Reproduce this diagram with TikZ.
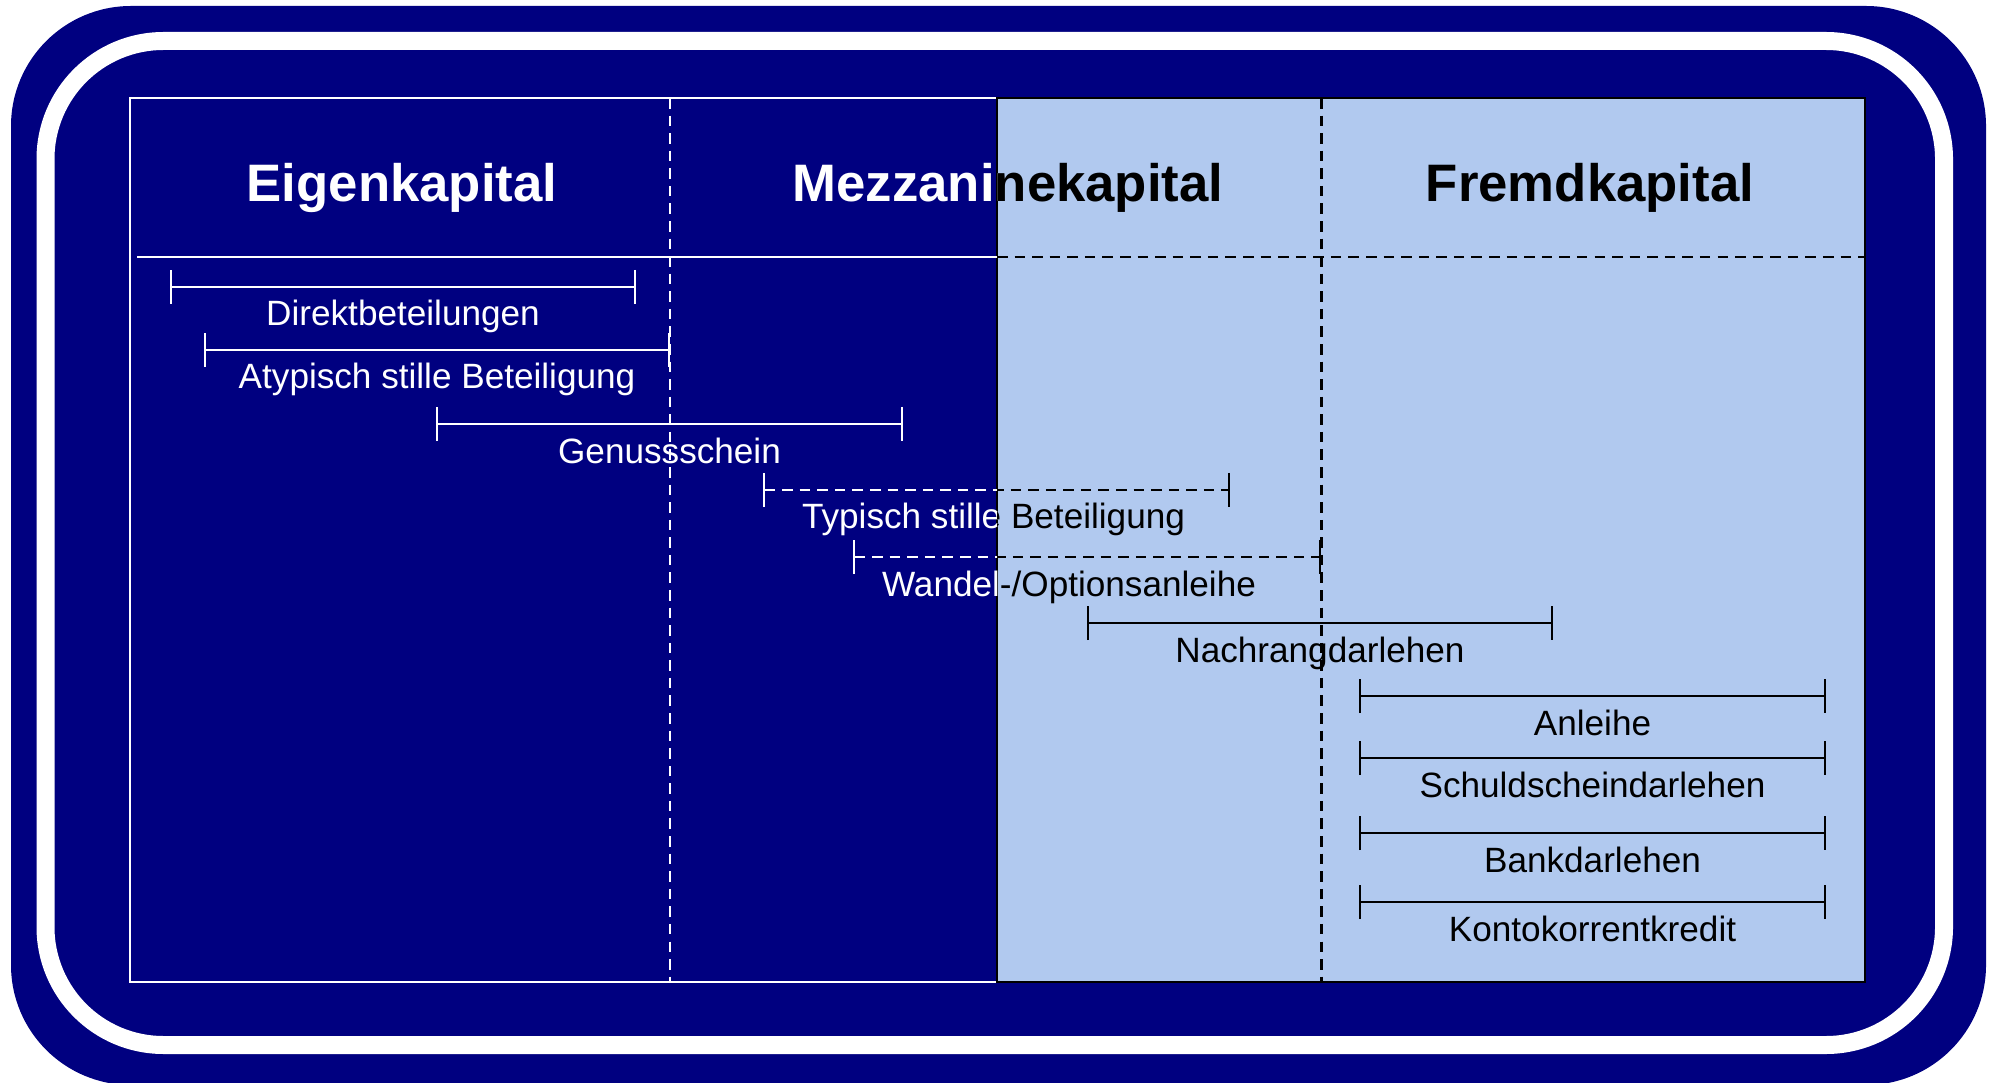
\documentclass[tikz,border=0pt]{standalone}
\usepackage{fontspec}
\setmainfont{Liberation Sans}
\usetikzlibrary{arrows.meta}

\definecolor{navyblue}{RGB}{0,0,128}
\definecolor{paleblue}{RGB}{177,201,239}

% all spans and headers, drawn twice (white on navy, black on pale blue)
\newcommand\capitalspans{%
  \node[head] (ek) at (4.02,2.02) {Eigenkapital};
  \node[head] (mk) at (10.08,2.02) {Mezzaninekapital};
  \node[head] (fk) at (15.90,2.02) {Fremdkapital};
  % equity side
  \coordinate (dirL) at (1.70,2.87); \coordinate (dirR) at (6.36,2.87);
  \draw[span] (dirL) -- (dirR) node[lbl] (dir) {Direktbeteilungen};
  \coordinate (atyL) at (2.04,3.50); \coordinate (atyR) at (6.70,3.50);
  \draw[span] (atyL) -- (atyR) node[lbl] (aty) {Atypisch stille Beteiligung};
  \coordinate (genL) at (4.36,4.24); \coordinate (genR) at (9.03,4.24);
  \draw[span] (genL) -- (genR) node[lbl] (gen) {Genussschein};
  \coordinate (typL) at (7.63,4.90); \coordinate (typR) at (12.30,4.90);
  \draw[span,dashspan] (typL) -- (typR) node[lbl,xshift=-0.03cm] (typ) {Typisch stille Beteiligung};
  \coordinate (wanL) at (8.53,5.57); \coordinate (wanR) at (13.21,5.57);
  \draw[span,dashspan] (wanL) -- (wanR) node[lbl,xshift=-0.18cm] (wan) {Wandel-/Optionsanleihe};
  \coordinate (narL) at (10.87,6.23); \coordinate (narR) at (15.53,6.23);
  \draw[span] (narL) -- (narR) node[lbl] (nar) {Nachrangdarlehen};
  % debt side
  \coordinate (anlL) at (13.59,6.96); \coordinate (anlR) at (18.26,6.96);
  \draw[span] (anlL) -- (anlR) node[lbl] (anl) {Anleihe};
  \coordinate (schL) at (13.59,7.58); \coordinate (schR) at (18.26,7.58);
  \draw[span] (schL) -- (schR) node[lbl] (sch) {Schuldscheindarlehen};
  \coordinate (bdaL) at (13.59,8.33); \coordinate (bdaR) at (18.26,8.33);
  \draw[span] (bdaL) -- (bdaR) node[lbl] (bda) {Bankdarlehen};
  \coordinate (kkkL) at (13.59,9.02); \coordinate (kkkR) at (18.26,9.02);
  \draw[span] (kkkL) -- (kkkR) node[lbl] (kkk) {Kontokorrentkredit};
}

\begin{document}
\begin{tikzpicture}[x=1cm,y=-1cm,
    head/.style={anchor=base,inner sep=0pt,font=\fontsize{15}{18}\selectfont\bfseries},
    lbl/.style={midway,anchor=base,yshift=-0.39cm,inner sep=0pt,font=\fontsize{10}{12}\selectfont},
    span/.style={line width=0.6pt,{Bar[width=3.4mm]}-{Bar[width=3.4mm]}},
    dashspan/.style={dash pattern=on 3pt off 2pt},
    sep/.style={line width=0.85pt,dash pattern=on 3pt off 2pt}]
  \useasboundingbox (0,0) rectangle (19.95,10.83);

  % frame
  \fill[navyblue,rounded corners=1.2cm] (0.11,0.06) rectangle (19.86,10.85);
  \draw[white,line width=0.18cm,rounded corners=1.18cm] (0.455,0.41) rectangle (19.44,10.45);

  % panels
  \fill[paleblue] (9.97,0.98) rectangle (18.65,9.82);
  \draw[white,line width=0.6pt] (9.97,0.98) -- (1.30,0.98) -- (1.30,9.82) -- (9.97,9.82);
  \draw[black,line width=0.8pt] (9.97,0.98) rectangle (18.65,9.82);

  % separators
  \draw[white,line width=0.6pt] (1.37,2.57) -- (9.97,2.57);
  \draw[black,sep] (9.97,2.57) -- (18.65,2.57);
  \draw[white,sep,line width=0.6pt] (6.70,0.98) -- (6.70,9.82);
  \draw[black,sep] (13.21,0.98) -- (13.21,9.82);

  % spans
  \begin{scope}
    \clip (0,0) rectangle (9.97,10.83);
    \begin{scope}[white] \capitalspans \end{scope}
  \end{scope}
  \begin{scope}
    \clip (9.97,0) rectangle (19.95,10.83);
    \begin{scope}[black] \capitalspans \end{scope}
  \end{scope}
\end{tikzpicture}
\end{document}
